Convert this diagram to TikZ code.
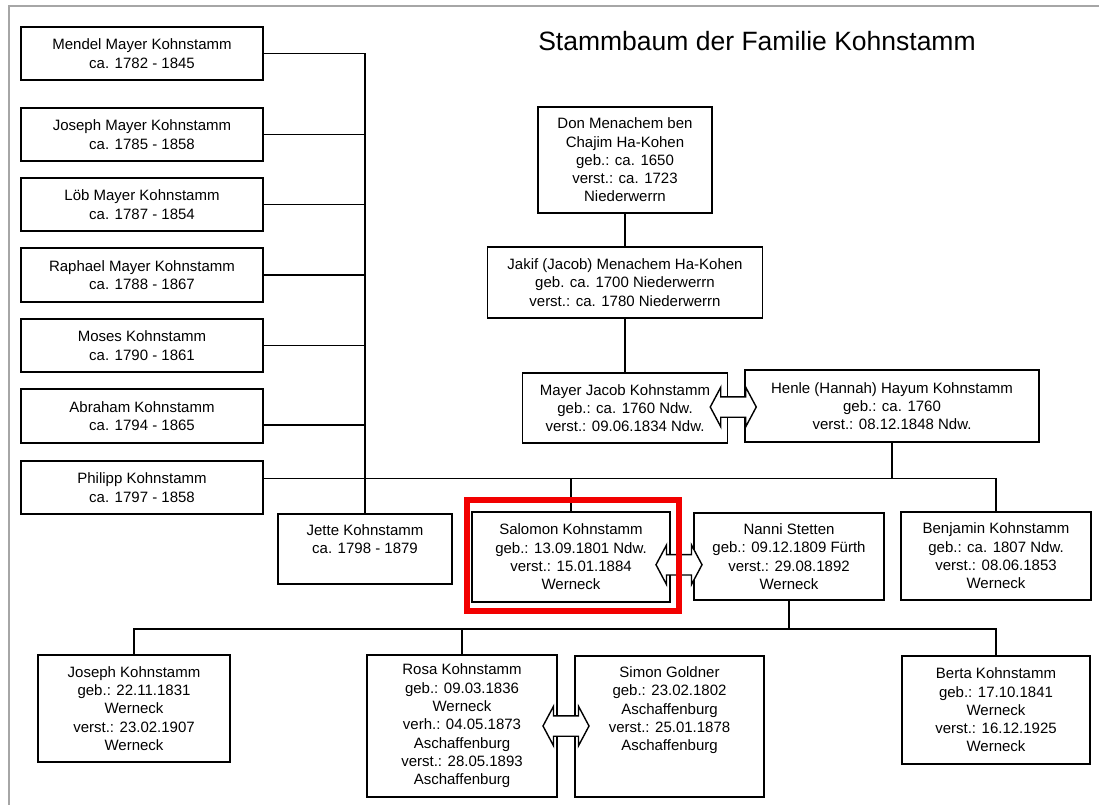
\documentclass[tikz,border=0pt]{standalone}
\usepackage{fontspec}
\setmainfont{Liberation Sans}
\usetikzlibrary{shapes.arrows, calc}

\tikzset{
    person/.style={draw, line width=1.6pt, fill=white, align=center, inner sep=0pt,
        font=\fontsize{15pt}{18.3pt}\selectfont},
    toptext/.style={anchor=north, inner ysep=11pt, text depth=#1},
    marriage/.style={double arrow, draw, line width=1.4pt, fill=white, inner xsep=0pt, inner ysep=9.5pt,
        minimum height=46pt, double arrow head extend=9.5pt,
        double arrow tip angle=124},
    link/.style={line width=1.5pt}
}

\begin{document}
\begin{tikzpicture}[x=1pt, y=-1pt]
    \useasboundingbox (0,0) rectangle (1099,805);
    % Page frame
    \draw[gray!70, line width=1.5pt] (1099,6) -- (9,6) -- (9,805);

    % Title
    \node[font=\fontsize{26.5pt}{30pt}\selectfont] (title) at (757,41) {Stammbaum der Familie Kohnstamm};

    % Draw nodes: ancestors
    \node[person, minimum width=174pt, minimum height=106pt] (don) at (625,160) {Don Menachem ben\\Chajim Ha-Kohen\\geb.: ca. 1650\\verst.: ca. 1723\\Niederwerrn};
    \node[person, minimum width=275pt, minimum height=71pt] (jakif) at (625,282.5) {Jakif (Jacob) Menachem Ha-Kohen\\geb. ca. 1700 Niederwerrn\\verst.: ca. 1780 Niederwerrn};
    \node[person, minimum width=205pt, minimum height=70pt] (mayer) at (625,408) {Mayer Jacob Kohnstamm\\geb.: ca. 1760 Ndw.\\verst.: 09.06.1834 Ndw.};
    \node[person, minimum width=294pt, minimum height=72pt] (henle) at (892,406) {Henle (Hannah) Hayum Kohnstamm\\geb.: ca. 1760\\verst.: 08.12.1848 Ndw.};

    % Draw nodes: children of Mayer Jacob
    \node[person, minimum width=242pt, minimum height=53pt] (mendel) at (142,53.5) {Mendel Mayer Kohnstamm\\ca. 1782 - 1845};
    \node[person, minimum width=242pt, minimum height=53pt] (josephm) at (142,134.5) {Joseph Mayer Kohnstamm\\ca. 1785 - 1858};
    \node[person, minimum width=242pt, minimum height=53pt] (loeb) at (142,204.5) {Löb Mayer Kohnstamm\\ca. 1787 - 1854};
    \node[person, minimum width=242pt, minimum height=54pt] (raphael) at (142,275) {Raphael Mayer Kohnstamm\\ca. 1788 - 1867};
    \node[person, minimum width=242pt, minimum height=53pt] (moses) at (142,345.5) {Moses Kohnstamm\\ca. 1790 - 1861};
    \node[person, minimum width=242pt, minimum height=54pt] (abraham) at (142,416) {Abraham Kohnstamm\\ca. 1794 - 1865};
    \node[person, minimum width=242pt, minimum height=53pt] (philipp) at (142,487.5) {Philipp Kohnstamm\\ca. 1797 - 1858};
    \node[person, minimum width=174pt, toptext=19pt] (jette) at (365,513) {Jette Kohnstamm\\ca. 1798 - 1879};
    \node[person, minimum width=198pt, minimum height=90pt] (salomon) at (571,557) {Salomon Kohnstamm\\geb.: 13.09.1801 Ndw.\\verst.: 15.01.1884\\Werneck};
    \node[person, minimum width=190pt, minimum height=87pt] (nanni) at (789,556.5) {Nanni Stetten\\geb.: 09.12.1809 Fürth\\verst.: 29.08.1892\\Werneck};
    \node[person, minimum width=190pt, minimum height=88pt] (benjamin) at (996,556) {Benjamin Kohnstamm\\geb.: ca. 1807 Ndw.\\verst.: 08.06.1853\\Werneck};

    % Draw nodes: children of Salomon
    \node[person, minimum width=192pt, minimum height=107pt] (josephk) at (134,708.5) {Joseph Kohnstamm\\geb.: 22.11.1831\\Werneck\\verst.: 23.02.1907\\Werneck};
    \node[person, minimum width=190pt, minimum height=142pt] (rosa) at (462,726) {Rosa Kohnstamm\\geb.: 09.03.1836\\Werneck\\verh.: 04.05.1873\\Aschaffenburg\\verst.: 28.05.1893\\Aschaffenburg};
    \node[person, minimum width=189pt, toptext=35pt] (simon) at (669.5,655) {Simon Goldner\\geb.: 23.02.1802\\Aschaffenburg\\verst.: 25.01.1878\\Aschaffenburg};
    \node[person, minimum width=188pt, minimum height=108pt] (berta) at (996,710) {Berta Kohnstamm\\geb.: 17.10.1841\\Werneck\\verst.: 16.12.1925\\Werneck};

    % Draw connections
    \coordinate (bar) at (364,478);
    \coordinate (kids) at (134,629);
    \draw[link] (don.south) -- (jakif.north);
    \draw[link] (jakif.south) -- (mayer.north);
    \draw[link] (mendel.east) -| (jette.north);
    \foreach \n in {josephm, loeb, raphael, moses}
        \draw[link] (\n.east) -- (\n.east -| jette.north);
    \draw[link] ([yshift=-9pt]abraham.east) -- ([yshift=-9pt]abraham.east -| jette.north);
    \draw[link] ([yshift=9pt]philipp.east) -| (benjamin.north);
    \draw[link] (henle.south) -- (henle.south |- bar);
    \draw[link] (salomon.north) -- (salomon.north |- bar);
    \draw[link] (josephk.north) |- (berta.north |- kids) -- (berta.north);
    \draw[link] (nanni.south) -- (nanni.south |- kids);
    \draw[link] (rosa.north) -- (rosa.north |- kids);

    % Marriages
    \node[marriage] (m1) at ($(mayer.east)!.5!(henle.west)+(-3,0)$) {};
    \node[marriage] (m2) at ($(salomon.east)!.5!(nanni.west)+(-3,8)$) {};
    \node[marriage] (m3) at ($(rosa.east)!.5!(simon.west |- rosa.east)$) {};

    % Highlight
    \draw[red!95!black, line width=6pt] ([shift={(-4pt,11pt)}]salomon.north west) rectangle ([shift={(8pt,-8pt)}]salomon.south east);
\end{tikzpicture}
\end{document}
